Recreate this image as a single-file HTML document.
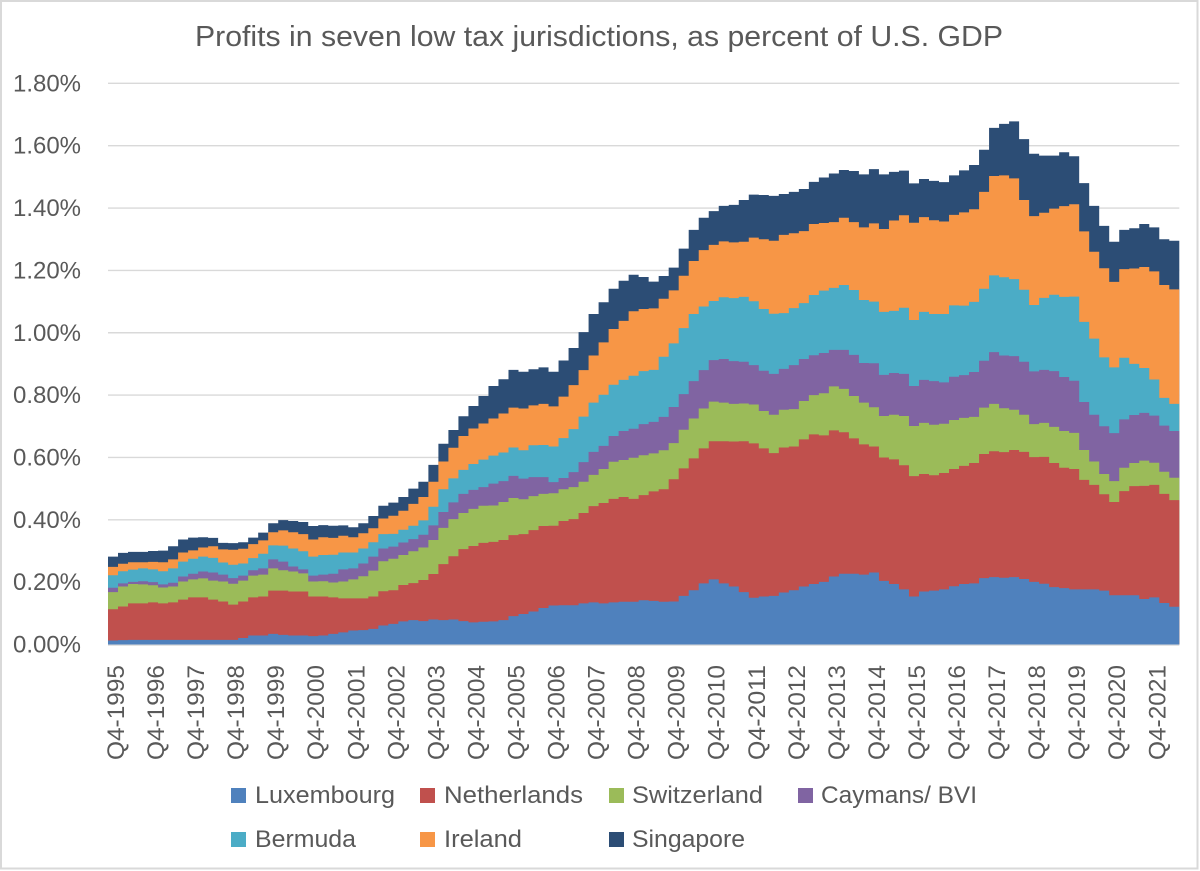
<!DOCTYPE html>
<html lang="en">
<head>
<meta charset="utf-8">
<title>Profits in seven low tax jurisdictions</title>
<style>
html,body{margin:0;padding:0;background:#fff;width:1200px;height:871px;overflow:hidden}
svg{display:block}
text{font-family:"Liberation Sans",sans-serif;fill:#595959}
</style>
</head>
<body>
<svg id="chart" xmlns="http://www.w3.org/2000/svg" width="1200" height="871" viewBox="0 0 1200 871">
<rect x="1" y="1" width="1196.5" height="867.5" fill="#fff" stroke="#d9d9d9" stroke-width="2"/>
<text x="195" y="46" font-size="29" textLength="808" lengthAdjust="spacingAndGlyphs">Profits in seven low tax jurisdictions, as percent of U.S. GDP</text>
<g id="gridlines"></g>
<g id="areas"></g>
<g id="y-axis"></g>
<g id="x-axis"></g>
<g font-size="24">
<g><rect x="231" y="788" width="15" height="15" fill="#4F81BD"/><text x="255" y="803" textLength="140" lengthAdjust="spacingAndGlyphs">Luxembourg</text></g>
<g><rect x="420" y="788" width="15" height="15" fill="#C0504D"/><text x="444" y="803" textLength="139" lengthAdjust="spacingAndGlyphs">Netherlands</text></g>
<g><rect x="609" y="788" width="15" height="15" fill="#9BBB59"/><text x="632" y="803" textLength="131" lengthAdjust="spacingAndGlyphs">Switzerland</text></g>
<g><rect x="798" y="788" width="15" height="15" fill="#8064A2"/><text x="821" y="803" textLength="156" lengthAdjust="spacingAndGlyphs">Caymans/ BVI</text></g>
<g><rect x="231" y="832" width="15" height="15" fill="#4BACC6"/><text x="255" y="847" textLength="101" lengthAdjust="spacingAndGlyphs">Bermuda</text></g>
<g><rect x="420" y="832" width="15" height="15" fill="#F79646"/><text x="444" y="847" textLength="78" lengthAdjust="spacingAndGlyphs">Ireland</text></g>
<g><rect x="609" y="832" width="15" height="15" fill="#2C4D75"/><text x="632" y="847" textLength="113" lengthAdjust="spacingAndGlyphs">Singapore</text></g>
</g>
</svg>
<script>
// Values are in thousandths of a percentage point of U.S. GDP; one entry per quarter from Q4-1995.
const luxembourg=[13,14,15,15,15,15,15,15,15,15,15,15,15,21,29,29,34,31,29,29,27,29,34,39,45,46,50,61,66,74,78,75,80,78,80,75,71,73,74,78,91,98,106,117,125,126,126,132,135,132,135,137,137,142,140,137,138,156,174,196,209,196,186,168,150,154,156,167,174,186,194,201,218,227,227,224,231,204,194,177,154,170,173,177,187,194,196,213,216,214,216,210,201,195,184,181,177,177,177,173,158,158,158,146,151,133,121];
const netherlands=[100,108,117,117,120,117,120,129,136,136,129,123,113,117,122,125,139,142,141,141,127,125,117,109,103,102,104,110,108,117,119,132,146,180,203,231,245,253,255,257,260,256,261,263,256,270,276,290,309,322,332,336,330,337,351,361,392,409,423,433,443,456,465,484,495,475,458,465,461,472,480,470,469,454,434,418,404,396,400,398,386,377,370,373,376,379,386,398,404,403,408,408,400,407,398,386,386,351,335,309,299,334,350,363,361,350,342];
const switzerland=[55,64,62,61,55,51,51,58,58,61,61,64,67,67,70,70,71,65,64,58,48,49,48,54,61,71,83,96,101,96,102,104,109,116,119,116,119,119,117,122,119,112,109,103,104,102,103,100,100,109,119,119,132,128,122,125,116,124,128,128,127,124,121,121,125,120,123,121,120,123,126,135,141,139,136,134,126,133,143,158,161,164,162,158,157,154,148,149,152,141,129,119,106,109,116,118,116,96,75,65,67,75,74,81,71,71,72];
const caymansBvi=[14,10,7,10,10,10,12,16,18,22,26,22,18,16,17,20,29,28,16,13,19,21,28,39,35,41,45,41,39,40,39,41,47,51,54,61,61,60,70,67,71,66,61,54,36,36,48,63,74,74,83,93,93,100,101,107,116,114,120,123,133,140,137,134,126,129,131,131,141,135,128,129,117,125,132,127,141,132,134,135,128,138,140,133,139,137,144,150,166,169,172,170,169,170,179,173,167,154,150,153,154,155,154,153,151,148,150];
const bermuda=[40,39,39,41,41,42,46,48,48,48,47,39,43,39,39,47,45,51,58,58,61,63,61,54,51,48,46,46,41,41,43,46,60,73,77,77,83,88,90,92,91,91,102,103,114,128,138,146,158,164,164,164,170,170,167,193,204,212,215,204,190,198,202,208,205,198,193,179,183,179,193,200,199,208,208,202,198,202,199,212,212,218,215,219,229,223,225,231,246,251,247,231,213,231,245,257,270,257,244,221,211,198,164,144,116,89,87];
const ireland=[27,24,24,20,24,29,29,29,27,29,37,42,48,47,45,43,42,49,52,55,55,57,54,54,49,49,45,50,58,61,70,75,80,89,98,109,114,116,119,125,128,134,128,132,129,133,141,149,151,168,179,189,207,199,197,186,170,168,170,181,180,179,179,177,204,224,234,251,240,231,228,217,211,216,218,233,251,266,290,297,312,304,301,297,290,299,297,311,319,327,323,288,285,273,276,291,296,290,279,286,274,284,306,324,347,362,367];
const singapore=[33,35,33,33,35,37,42,42,41,33,27,21,21,21,21,25,29,33,36,39,43,39,39,33,32,32,39,41,42,44,49,49,54,57,57,63,72,88,104,110,121,118,116,117,111,116,119,122,133,129,129,129,117,103,86,73,73,87,100,104,108,114,120,134,138,142,144,131,133,135,135,146,156,153,164,170,174,175,156,143,126,122,126,126,127,135,142,135,154,165,183,195,200,183,170,173,154,155,147,136,129,126,129,138,141,147,156];
const seriesNames=["luxembourg","netherlands","switzerland","caymans-bvi","bermuda","ireland","singapore"];
const seriesValues=[luxembourg,netherlands,switzerland,caymansBvi,bermuda,ireland,singapore];
const seriesColors=["#4F81BD","#C0504D","#9BBB59","#8064A2","#4BACC6","#F79646","#2C4D75"];
const yTickLabels=["0.00%","0.20%","0.40%","0.60%","0.80%","1.00%","1.20%","1.40%","1.60%","1.80%"];
const yTickValues=[0,200,400,600,800,1000,1200,1400,1600,1800];
const xTickLabels=["Q4-1995","Q4-1996","Q4-1997","Q4-1998","Q4-1999","Q4-2000","Q4-2001","Q4-2002","Q4-2003","Q4-2004","Q4-2005","Q4-2006","Q4-2007","Q4-2008","Q4-2009","Q4-2010","Q4-2011","Q4-2012","Q4-2013","Q4-2014","Q4-2015","Q4-2016","Q4-2017","Q4-2018","Q4-2019","Q4-2020","Q4-2021"];

const SVG_NS="http://www.w3.org/2000/svg";
const plotLeft=108, plotRight=1179.3, plotBottom=644.5, pxPerUnit=62.35/200;
const quarterCount=luxembourg.length;
function xEdge(i){return plotLeft+(plotRight-plotLeft)*i/quarterCount;}
function yPos(v){return plotBottom-v*pxPerUnit;}

const gridG=document.getElementById("gridlines");
const yAxisG=document.getElementById("y-axis");
const xAxisG=document.getElementById("x-axis");
const areasG=document.getElementById("areas");

yTickValues.forEach(function(v,k){
  const line=document.createElementNS(SVG_NS,"line");
  
  
  line.setAttribute("x1",plotLeft);
  line.setAttribute("x2",plotRight);
  line.setAttribute("y1",yPos(v)+(v===0?0.5:0));
  line.setAttribute("y2",yPos(v)+(v===0?0.5:0));
  line.setAttribute("stroke","#d9d9d9");
  line.setAttribute("stroke-width","1.4");
  gridG.appendChild(line);
  const t=document.createElementNS(SVG_NS,"text");
  
  
  t.setAttribute("x",13);
  t.setAttribute("y",yPos(v)+8);
  t.setAttribute("font-size","24.5");
  t.setAttribute("textLength","68");
  t.setAttribute("lengthAdjust","spacingAndGlyphs");
  t.textContent=yTickLabels[k];
  yAxisG.appendChild(t);
});

xTickLabels.forEach(function(label,k){
  const bx=xEdge(k*4)+16;
  const t=document.createElementNS(SVG_NS,"text");
  
  
  t.setAttribute("transform","translate("+bx+",760) rotate(-90)");
  t.setAttribute("font-size","24");
  t.setAttribute("textLength","95");
  t.setAttribute("lengthAdjust","spacingAndGlyphs");
  t.textContent=label;
  xAxisG.appendChild(t);
});

// Cumulative stack tops; areas are painted from the top series down so neighbours never show a seam.
const stackTops=[];
seriesValues.forEach(function(vals,s){
  stackTops.push(vals.map(function(v,i){return v+(s>0?stackTops[s-1][i]:0);}));
});
for(let s=seriesValues.length-1;s>=0;s--){
  let d="M"+xEdge(0).toFixed(2)+" "+yPos(0).toFixed(2);
  stackTops[s].forEach(function(v,i){
    const y=yPos(v).toFixed(2);
    d+="L"+xEdge(i).toFixed(2)+" "+y+"L"+xEdge(i+1).toFixed(2)+" "+y;
  });
  d+="L"+xEdge(quarterCount).toFixed(2)+" "+yPos(0).toFixed(2)+"Z";
  const p=document.createElementNS(SVG_NS,"path");
  
  
  p.setAttribute("d",d);
  p.setAttribute("fill",seriesColors[s]);
  areasG.appendChild(p);
}
</script>
</body>
</html>
